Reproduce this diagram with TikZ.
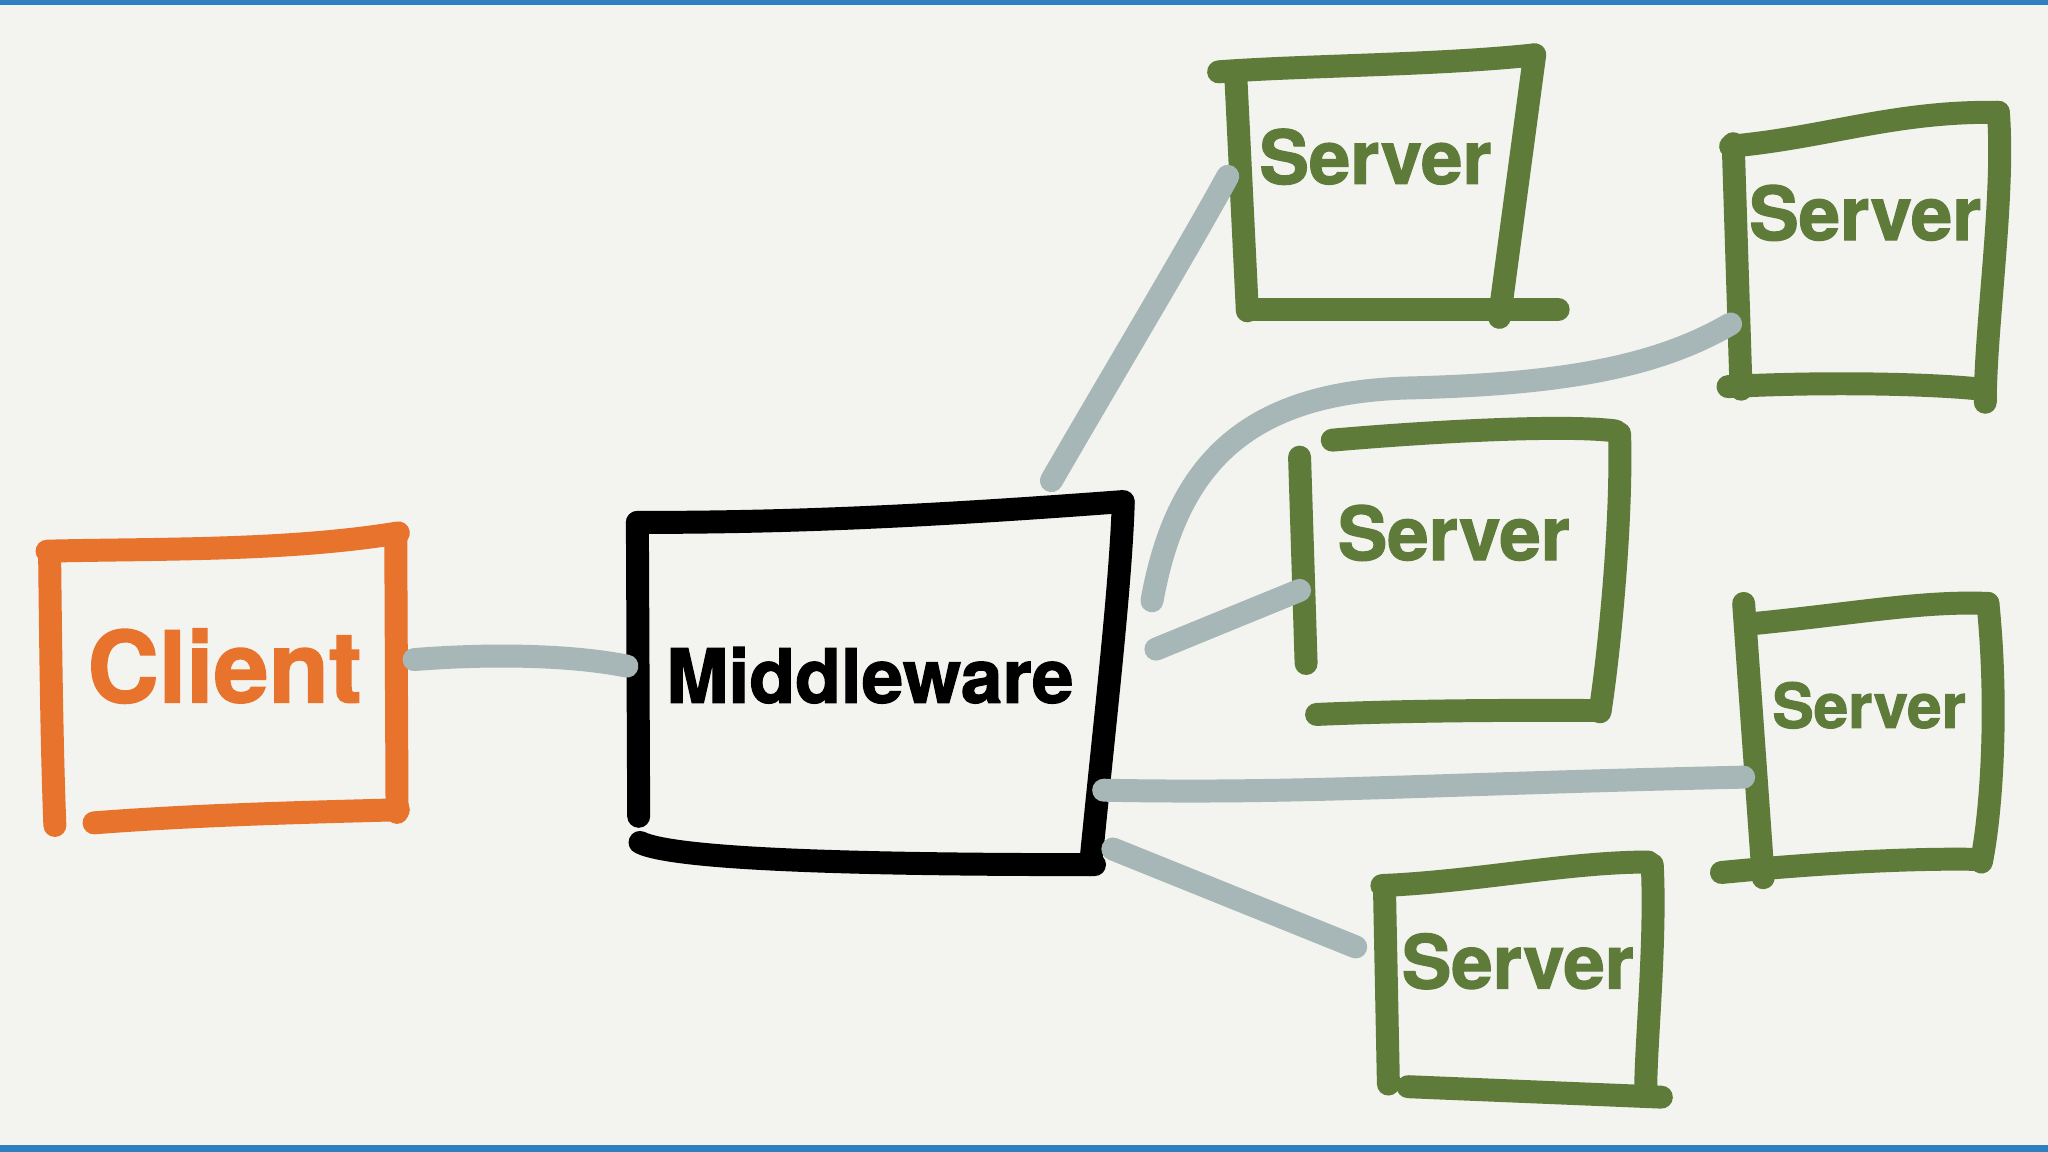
\documentclass[tikz,border=0pt]{standalone}
\usepackage{fontspec}
\setmainfont{TeX Gyre Heros}[BoldFeatures={FakeBold=1.6}]
\definecolor{bgc}{HTML}{F3F3EF}
\definecolor{barc}{HTML}{2F7FC1}
\definecolor{clientc}{HTML}{E8732C}
\definecolor{serverc}{HTML}{5F7B3A}
\definecolor{wirec}{HTML}{A7B6B6}
\tikzset{
  pen/.style={line width=5pt, line cap=round, line join=round},
  cbox/.style={pen, draw=clientc},
  mbox/.style={pen, draw=black},
  sbox/.style={pen, draw=serverc},
  wire/.style={draw=wirec, line width=5pt, line cap=round},
  lbl/.style={font=\bfseries, inner sep=0pt, anchor=center},
}
\begin{document}
\begin{tikzpicture}[x=0.01cm, y=-0.01cm]
\useasboundingbox (0,0) rectangle (1568,882);
\fill[bgc] (0,0) rectangle (1568,882);
\fill[barc] (0,0) rectangle (1568,4);
\fill[barc] (0,877) rectangle (1568,882);

% Client box
\draw[cbox] (38,425) .. controls (39,520) and (40,580) .. (42,632);
\draw[cbox] (36,422) .. controls (120,420) and (220,422) .. (305,408);
\draw[cbox] (303,410) -- (304,622);
\draw[cbox] (72,630) .. controls (150,624) and (230,622) .. (305,620);
\node[lbl, text=clientc, font=\bfseries\fontsize{21.5}{24}\selectfont] (client) at (172,510) {Client};

% Middleware box
\draw[mbox] (488,400) -- (489,625);
\draw[mbox] (488,400) .. controls (600,400) and (700,396) .. (860,384);
\draw[mbox] (860,385) .. controls (858,450) and (845,560) .. (835,662);
\draw[mbox] (490,645) .. controls (520,660) and (700,662) .. (838,662);
\node[lbl, text=black, font=\bfseries\fontsize{16.3}{19}\selectfont] (mid) at (666,517) {Middleware};

% Server 1
\draw[sbox] (933,55) .. controls (1000,50) and (1100,50) .. (1175,42);
\draw[sbox] (946,55) -- (955,238);
\draw[sbox] (1175,42) -- (1148,243);
\draw[sbox] (955,237) -- (1193,237);
\node[lbl, text=serverc, font=\bfseries\fontsize{16.2}{19}\selectfont] (s1) at (1053,120) {Server};

% Server 2
\draw[sbox] (1325,112) .. controls (1400,105) and (1450,85) .. (1530,86);
\draw[sbox] (1327,110) -- (1333,298);
\draw[sbox] (1530,86) .. controls (1535,150) and (1520,250) .. (1520,308);
\draw[sbox] (1323,296) .. controls (1400,292) and (1480,294) .. (1517,298);
\node[lbl, text=serverc, font=\bfseries\fontsize{16.2}{19}\selectfont] (s2) at (1428,163) {Server};

% Server 3
\draw[sbox] (1020,337) .. controls (1100,330) and (1200,325) .. (1237,330);
\draw[sbox] (1240,332) .. controls (1242,400) and (1232,500) .. (1225,545);
\draw[sbox] (1008,547) .. controls (1100,543) and (1200,544) .. (1225,544);
\draw[sbox] (995,350) -- (1000,508);
\node[lbl, text=serverc, font=\bfseries\fontsize{16.2}{19}\selectfont] (s3) at (1113,408) {Server};

% Server 4
\draw[sbox] (1335,462) -- (1350,672);
\draw[sbox] (1337,478) .. controls (1420,470) and (1470,460) .. (1522,462);
\draw[sbox] (1522,462) .. controls (1530,540) and (1525,620) .. (1517,660);
\draw[sbox] (1318,668) .. controls (1400,660) and (1470,657) .. (1515,658);
\node[lbl, text=serverc, font=\bfseries\fontsize{13.5}{16}\selectfont] (s4) at (1431,540) {Server};

% Server 5
\draw[sbox] (1058,678) .. controls (1130,675) and (1200,660) .. (1262,660);
\draw[sbox] (1060,680) -- (1063,830);
\draw[sbox] (1265,662) .. controls (1268,720) and (1260,800) .. (1260,835);
\draw[sbox] (1078,832) -- (1272,840);
\node[lbl, text=serverc, font=\bfseries\fontsize{16.2}{19}\selectfont] (s5) at (1162,736) {Server};

% connector end points
\coordinate (cA) at (317,505);
\coordinate (mA) at (480,510);
\coordinate (mB) at (805,368);
\coordinate (s1A) at (940,135);
\coordinate (mC) at (882,460);
\coordinate (kC) at (1080,297);
\coordinate (s2A) at (1325,248);
\coordinate (mD) at (885,497);
\coordinate (s3A) at (995,452);
\coordinate (mE) at (845,605);
\coordinate (s4A) at (1335,595);
\coordinate (mF) at (852,650);
\coordinate (s5A) at (1038,725);

% connectors
\draw[wire] (cA) .. controls (380,500) and (440,502) .. (mA);
\draw[wire] (mB) .. controls (850,290) and (910,190) .. (s1A);
\draw[wire] (mC) .. controls (900,360) and (950,300) .. (kC) .. controls (1200,294) and (1270,280) .. (s2A);
\draw[wire] (mD) -- (s3A);
\draw[wire] (mE) .. controls (1000,608) and (1100,600) .. (s4A);
\draw[wire] (mF) -- (s5A);
\end{tikzpicture}
\end{document}
